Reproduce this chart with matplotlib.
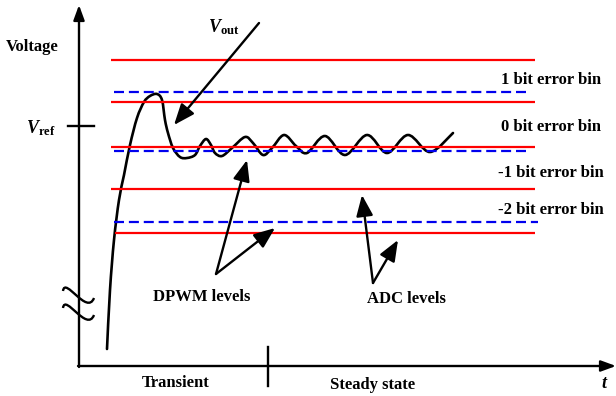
import matplotlib
matplotlib.use("Agg")
import matplotlib.pyplot as plt
import numpy as np
from matplotlib.path import Path
from matplotlib.patches import PathPatch

plt.rcParams['font.family'] = ['Liberation Serif', 'DejaVu Serif']
plt.rcParams['font.weight'] = 'bold'
plt.rcParams['mathtext.fontset'] = 'custom'
plt.rcParams['mathtext.it'] = 'Liberation Serif:italic:bold'
plt.rcParams['mathtext.rm'] = 'Liberation Serif:bold'

# ---- data (schematic, pixel units) ----
adc_levels = [60, 102, 147, 189, 233]          # red solid lines
dpwm_levels = [92, 151, 222]                  # blue dashed lines
bin_labels = ["1 bit error bin", "0 bit error bin", "-1 bit error bin", "-2 bit error bin"]
bin_label_y = [80, 127, 173, 210]
vout_x = [107, 110, 114, 119, 124, 130, 137, 144, 150, 157, 162, 165, 168, 173, 180, 187,
          195, 200, 206, 211, 215, 222, 232, 245, 253, 263, 272, 284, 296, 307, 325, 345,
          367, 387, 408, 430, 453]
vout_y = [349, 290, 240, 200, 175, 145, 118, 102, 96, 94, 100, 120, 133, 148, 157, 158,
          155, 146, 139, 145, 153, 156, 148, 137, 143, 155, 148, 135, 146, 153, 136, 155,
          135, 153, 135, 152, 133]

fig = plt.figure(figsize=(6.16, 3.96), dpi=100)
ax = fig.add_axes([0, 0, 1, 1])
ax.set_xlim(0, 616)
ax.set_ylim(396, 0)
ax.axis('off')

FS = 12

# ADC levels (red)
for i, y in enumerate(adc_levels):
    x0 = 115 if i == len(adc_levels) - 1 else 111
    ax.plot([x0, 535], [y, y], color='#ff0000', lw=1.6, solid_capstyle='butt')

# DPWM levels (blue dashed)
for i, y in enumerate(dpwm_levels):
    x1 = 538 if i == len(dpwm_levels) - 1 else 528
    ax.plot([114, x1], [y, y], color='#0000ee', lw=1.6, dashes=(4.5, 2.2))

# axes with arrows
arr = dict(arrowstyle='-|>,head_length=0.6,head_width=0.22', lw=1.7, color='black',
           mutation_scale=15, shrinkA=0, shrinkB=0)
ax.annotate('', xy=(79, 5), xytext=(79, 367), arrowprops=arr)
ax.annotate('', xy=(616, 366), xytext=(78, 366), arrowprops=arr)
ax.plot([68, 94], [126, 126], color='black', lw=1.7)
ax.plot([268, 268], [347, 386], color='black', lw=1.7)

# axis break squiggles
for dy in (0, 17):
    verts = [(63, 291 + dy), (65, 276 + dy), (87, 316 + dy), (94, 298 + dy)]
    ax.add_patch(PathPatch(Path(verts, [Path.MOVETO, Path.CURVE4, Path.CURVE4, Path.CURVE4]),
                           fill=False, lw=1.7, color='black'))

# Vout curve: smooth cubic path through the read points
P = np.column_stack([vout_x, vout_y]).astype(float)
verts = [tuple(P[0])]
codes = [Path.MOVETO]
n = len(P)
for i in range(n - 1):
    p0 = P[max(i - 1, 0)]
    p1 = P[i]
    p2 = P[i + 1]
    p3 = P[min(i + 2, n - 1)]
    c1 = p1 + (p2 - p0) / 6
    c2 = p2 - (p3 - p1) / 6
    verts += [tuple(c1), tuple(c2), tuple(p2)]
    codes += [Path.CURVE4] * 3
ax.add_patch(PathPatch(Path(verts, codes), fill=False, lw=1.9, color='black',
                       capstyle='round', joinstyle='round'))

# annotation arrows
aarr = dict(arrowstyle='-|>,head_length=0.85,head_width=0.34', lw=1.7, color='black',
            mutation_scale=15, shrinkA=0, shrinkB=0)
ax.annotate('', xy=(174, 125), xytext=(259, 23), arrowprops=aarr)
ax.annotate('', xy=(247, 160), xytext=(216, 274), arrowprops=aarr)
ax.annotate('', xy=(275, 228), xytext=(216, 274), arrowprops=aarr)
ax.annotate('', xy=(362, 195), xytext=(373, 283), arrowprops=aarr)
ax.annotate('', xy=(398, 240), xytext=(373, 283), arrowprops=aarr)

# texts
ax.text(6, 47, "Voltage", fontsize=FS, fontweight='bold', ha='left', va='center')
ax.text(26, 128, r'$V_{\mathrm{ref}}$', fontsize=FS + 1, ha='left', va='center')
ax.text(208, 27, r'$V_{\mathrm{out}}$', fontsize=FS + 1, ha='left', va='center')
for lab, y in zip(bin_labels, bin_label_y):
    ax.text(551, y, lab, fontsize=FS, fontweight='bold', ha='center', va='center')
ax.text(202, 297, "DPWM levels", fontsize=FS, fontweight='bold', ha='center', va='center')
ax.text(406, 299, "ADC levels", fontsize=FS, fontweight='bold', ha='center', va='center')
ax.text(176, 383, "Transient", fontsize=FS, fontweight='bold', ha='center', va='center')
ax.text(373, 385, "Steady state", fontsize=FS, fontweight='bold', ha='center', va='center')
ax.text(605, 383, r'$t$', fontsize=FS + 1, ha='center', va='center')

fig.savefig("out.png", dpi=100)
